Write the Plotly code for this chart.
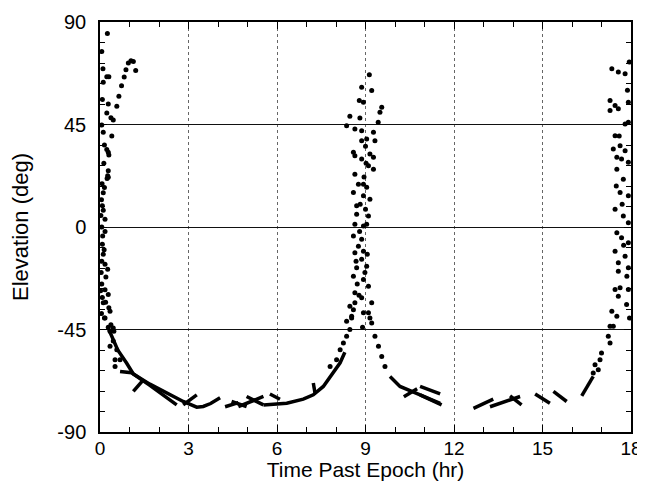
import plotly.graph_objects as go

# ---- data ----
# scattered observation dots (hours, degrees)
left_x = [0.25,0.06,0.10,0.23,0.30,0.11,0.08,0.28,0.23,0.37,0.45,
          0.57,0.64,0.73,0.82,0.88,0.96,1.05,1.13,1.21,
          0.06,0.11,0.40,0.15,0.23,0.28,0.30,0.28,0.26,0.24,
          0.28,0.15,0.11,0.08,0.11,0.17,0.06,0.17,0.08,0.11,0.06,0.17,0.26,0.06,0.17,0.28,0.08,0.11,0.30,0.34,0.15,0.37,0.45,0.28,0.47,
          0.17,0.34,0.45,0.34,0.57,0.51,0.51,0.68,
          0.05,0.04,0.05,0.20,0.13,0.03,0.09,0.14,0.02,0.19,0.07]
left_y = [85,77,69.5,66,66,63.6,56,54,50,48,47,
          53,57.4,62,65.8,69,72,73,72.7,68.7,
          44.8,41.6,40,36,34,32.8,31.6,24.7,22.5,21.3,
          21.8,17.3,15,9.3,7.4,3.4,0,-2,-7.6,-12,-15,-16.4,-18.6,-25,-27.5,-29.6,-31,-33.3,-35.5,-37,-40,-42.9,-44.3,-44,-45.8,
          -40,-45.8,-50,-52.4,-53.9,-58.3,-61.2,-58.3,
          12,-20,-38,-22,28,5,-4,-10,-28,-33,19]

peak_x = [9.13,8.87,9.21,8.79,8.93,9.55,9.49,8.47,8.81,9.43,8.36,8.64,8.87,9.27,9.04,8.87,9.32,9.00,8.59,8.64,
          9.15,8.87,9.27,9.10,9.27,8.64,8.76,8.93,9.04,8.59,8.93,9.15,8.70,9.00,9.10,8.70,8.64,8.93,9.04,8.59,
          8.87,8.76,8.93,8.64,8.87,9.04,8.70,8.59,8.93,9.10,8.64,8.87,8.47,9.21,8.53,9.15,8.93,
          8.64,8.59,8.53,8.36,8.47,8.36,8.25,8.14,8.02,7.80,
          9.10,9.21,9.32,9.44,9.55,9.66,
          8.80,8.98,8.72,9.06,8.82,8.95,8.68,9.02,8.78,8.90]
peak_y = [66.8,61.4,59.9,55.5,54.8,52.6,50.4,48.6,47.8,46,44.5,43,42.3,41.6,38.6,37.9,37.9,35.4,32.8,31.3,
          32,29.8,30.6,26.9,25.4,23.2,18.8,18.8,17.4,15.2,13.7,12.2,9.3,7.8,4.8,5.6,1.2,0.4,1.2,-4,
          -5.4,-8.4,-10.6,-11.3,-14.2,-17.2,-17.9,-21.6,-23,-26,-28.9,-31.1,-34.8,-33.3,-39.9,-39.9,-37.7,
          -33.3,-36.3,-39.2,-41.4,-45,-48,-50.9,-53.9,-58.3,-61.2,
          -37.7,-42.1,-48,-52.4,-56.8,-61.2,
          -2,-20,-25,-12,10,22,-15,28,-30,-44]

right_x = [17.35,17.57,17.80,17.94,17.29,17.46,17.29,17.57,17.91,17.91,17.80,17.46,17.63,17.40,17.80,17.52,17.68,17.91,
           17.52,17.74,17.63,17.91,17.46,17.74,17.91,17.52,17.68,17.91,17.46,17.80,17.57,17.91,17.57,17.86,
           17.46,17.63,17.91,17.57,17.35,17.52,17.29,17.40,17.23,17.29,17.00,16.95,16.78,16.89,16.72,
           17.70,17.85,17.60,17.95,17.75,17.50,17.88]
right_y = [69.5,68,67.3,72.4,55.5,53.3,51.1,51.9,54.8,46,45.2,40.1,35.7,34.2,33.5,30.6,29.8,28.4,
           25.4,21,15.2,13.7,7.8,4.8,1.9,-2.5,-4.7,-6.9,-10.6,-12.8,-15.7,-17.9,-19.4,-21.6,
           -27.4,-26.7,-27.4,-30.4,-37,-39.2,-43.6,-43.6,-48,-50.9,-55.3,-58.3,-60.5,-62.7,-64.1,
           10,-34,40,-40,-8,18,60]

# dense tracks (drawn as thick strokes), separated by None
track_x = [0.30,0.60,0.90,1.13,1.69,2.26,2.82,3.28,3.50,3.75,4.07, None,
           0.68,1.07,1.69,2.20,2.60, None,
           1.13,1.47, None,
           2.82,3.28, None,
           4.24,4.69, None,
           4.46,4.97, None,
           4.69,5.54, None,
           4.97,5.54, None,
           5.76,6.10, None,
           5.54,6.33,6.89,7.23,7.57,7.91,8.14,8.30, None,
           7.23,7.29, None,
           9.83,10.17,10.73,11.53, None,
           10.85,11.53, None,
           10.85,11.58, None,
           10.30,10.75, None,
           12.66,13.33, None,
           13.22,14.24, None,
           13.90,14.29, None,
           14.75,15.25, None,
           15.37,15.82, None,
           16.33,16.72]
track_y = [-45,-54,-59.7,-64.5,-69,-73,-76.6,-79.1,-78.8,-77.5,-75, None,
           -63.4,-64,-69.5,-74.5,-78.1, None,
           -72.2,-67.1, None,
           -78.1,-73.7, None,
           -78.9,-77.1, None,
           -76.6,-78.9, None,
           -78.9,-74.4, None,
           -74.4,-78.1, None,
           -73.3,-75.6, None,
           -78.1,-77.4,-75.6,-73.7,-70,-64,-59.6,-55, None,
           -68.5,-73, None,
           -65.6,-70,-73,-77.4, None,
           -70,-73.3, None,
           -73.7,-78.1, None,
           -74.5,-71, None,
           -79.6,-75.6, None,
           -78.9,-74.4, None,
           -74.1,-78.1, None,
           -73.3,-77.4, None,
           -72.2,-76.6, None,
           -74.1,-65.6]

x_ticks = [0, 3, 6, 9, 12, 15, 18]
y_ticks = [-90, -45, 0, 45, 90]

dots_x = left_x + peak_x + right_x
dots_y = left_y + peak_y + right_y

fig = go.Figure()
fig.add_trace(go.Scatter(x=track_x, y=track_y, mode="lines",
                         line=dict(color="black", width=3.5),
                         connectgaps=False, hoverinfo="skip", showlegend=False))
fig.add_trace(go.Scatter(x=dots_x, y=dots_y, mode="markers",
                         marker=dict(color="black", size=5),
                         cliponaxis=True, showlegend=False))

font = "Liberation Sans, Arial, sans-serif"
axis_common = dict(showline=True, linecolor="black", linewidth=1.5, mirror="ticks",
                   ticks="inside", ticklen=7, tickwidth=1.2, tickcolor="black",
                   zeroline=False, automargin=False)

fig.update_xaxes(range=[0, 18], tickvals=x_ticks, ticktext=[str(v) for v in x_ticks],
                 showgrid=True, gridcolor="#666666", gridwidth=1, griddash="dot",
                 ticklabelstandoff=-2,
                 tickfont=dict(family=font, size=19, color="black"),
                 minor=dict(dtick=1, ticks="inside", ticklen=5, tickcolor="black", showgrid=False),
                 title=dict(text="Time Past Epoch (hr)", font=dict(family=font, size=21, color="black"),
                            standoff=4),
                 **axis_common)
fig.update_yaxes(range=[-90, 90], tickvals=y_ticks, ticktext=[str(v) for v in y_ticks],
                 showgrid=True, gridcolor="#111111", gridwidth=1,
                 ticklabelstandoff=8,
                 tickfont=dict(family=font, size=20, color="black"),
                 minor=dict(dtick=9, ticks="inside", ticklen=5, tickcolor="black", showgrid=False),
                 title=dict(text="Elevation (deg)", font=dict(family=font, size=22, color="black"),
                            standoff=24),
                 **axis_common)

# the page adds an 8px body margin, so the figure is sized to fit inside the window
fig.update_layout(width=637, height=473,
                  margin=dict(l=92, r=14, t=14, b=49),
                  paper_bgcolor="white", plot_bgcolor="white",
                  showlegend=False)

fig.write_html("out.html")
